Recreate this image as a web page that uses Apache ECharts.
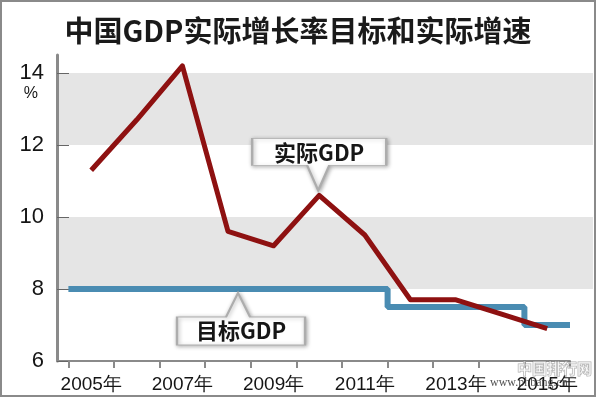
<!DOCTYPE html>
<html>
<head>
<meta charset="utf-8">
<script src="https://cdn.jsdelivr.net/npm/echarts@6/dist/echarts.min.js"></script>
<style>
  html, body { margin: 0; padding: 0; background: #fff; }
  #chart { width: 596px; height: 397px; }
</style>
</head>
<body>
<div id="chart"></div>
<script>
const years = [2005, 2006, 2007, 2008, 2009, 2010, 2011, 2012, 2013, 2014, 2015]
const actualGdp = [11.3, 12.7, 14.2, 9.6, 9.2, 10.6, 9.5, 7.7, 7.7, 7.3, 6.9]
const targetGdp = [8, 8, 8, 8, 8, 8, 8, 7.5, 7.5, 7.5, 7]
const yTicks = [6, 8, 10, 12, 14]
const xLabelYears = [2005, 2007, 2009, 2011, 2013, 2015]

// target holds for the whole year, so draw it across each year's band
const targetSteps = []
years.forEach((y, i) => {
  targetSteps.push([y - 0.5, targetGdp[i]])
  targetSteps.push([y + 0.5, targetGdp[i]])
})
const yearEdges = years.map(y => y - 0.5).concat([years[years.length - 1] + 0.5])
const actualPoints = years.map((y, i) => [y, actualGdp[i]])

const cjk = '"Noto Sans CJK SC", sans-serif'
const latin = '"Liberation Sans", Arial, sans-serif'

const calloutStyle = {
  color: '#fff',
  borderColor: '#adadad',
  borderWidth: 1.5,
  shadowBlur: 4,
  shadowOffsetX: 1,
  shadowOffsetY: 1,
  shadowColor: 'rgba(0,0,0,0.3)'
}
const calloutLabel = {
  show: true,
  position: 'inside',
  fontSize: 22,
  fontWeight: 'bold',
  fontFamily: cjk,
  color: '#161616'
}

var myChart = echarts.init(document.getElementById('chart'), null, { width: 596, height: 397 })

myChart.setOption({
  animation: false,
  backgroundColor: '#fff',
  title: {
    text: '中国GDP实际增长率目标和实际增速',
    left: 'center',
    top: 11,
    textStyle: { fontSize: 29, fontWeight: 'bold', color: '#1a1a1a', fontFamily: cjk }
  },
  grid: [
    { left: 57, right: 3, top: 55, bottom: 36 },
    { left: 57, right: 26, top: 55, bottom: 36 }
  ],
  xAxis: [
    { gridIndex: 0, type: 'value', show: false, min: 0, max: 1 },
    {
      gridIndex: 1,
      type: 'value',
      min: 2004.25,
      max: 2015.5,
      axisLine: { show: true, onZero: false, lineStyle: { color: '#8a8a8a', width: 2 } },
      axisTick: { show: true, customValues: yearEdges, length: 7, lineStyle: { color: '#8a8a8a', width: 2 } },
      axisLabel: {
        customValues: xLabelYears,
        formatter: v => v + '年',
        fontSize: 19,
        color: '#151515',
        fontFamily: latin,
        margin: 14
      },
      splitLine: { show: false }
    }
  ],
  yAxis: [
    {
      gridIndex: 0,
      type: 'value',
      min: 6,
      max: 14.5,
      interval: 2,
      name: '%',
      nameLocation: 'end',
      nameGap: 0,
      nameTextStyle: {
        fontSize: 16, color: '#151515', fontFamily: latin,
        align: 'right', verticalAlign: 'top', padding: [31, 19, 0, 0]
      },
      axisLine: { show: true, lineStyle: { color: '#8a8a8a', width: 3 } },
      axisTick: { show: true, inside: true, length: 12, customValues: yTicks, lineStyle: { color: '#666', width: 1 } },
      axisLabel: { customValues: yTicks, fontSize: 22, color: '#151515', fontFamily: latin, margin: 13 },
      splitLine: { show: false },
      splitArea: { show: true, areaStyle: { color: ['#ffffff', '#e5e5e5'] } }
    },
    { gridIndex: 1, type: 'value', min: 6, max: 14.5, show: false }
  ],
  series: [
    {
      name: '目标GDP',
      type: 'line',
      xAxisIndex: 1,
      yAxisIndex: 1,
      data: targetSteps,
      showSymbol: false,
      lineStyle: { color: '#4a8cb2', width: 6 },
      markPoint: {
        data: [{
          coord: [2008.22, 8],
          symbol: 'path://M61 0 L73 24 L128 24 L128 52 L0 52 L0 24 L49 24 Z',
          symbolSize: [128, 52],
          symbolOffset: [3, 30],
          itemStyle: calloutStyle,
          label: Object.assign({}, calloutLabel, { formatter: '目标GDP', offset: [0, 12] })
        }]
      }
    },
    {
      name: '实际GDP',
      type: 'line',
      xAxisIndex: 1,
      yAxisIndex: 1,
      data: actualPoints,
      showSymbol: false,
      lineStyle: { color: '#8e1111', width: 5, join: 'round' },
      markPoint: {
        data: [{
          coord: [2010, 10.6],
          symbol: 'path://M0 0 L134 0 L134 27 L77 27 L66 52 L55 27 L0 27 Z',
          symbolSize: [134, 52],
          symbolOffset: [0, -31],
          itemStyle: calloutStyle,
          label: Object.assign({}, calloutLabel, { formatter: '实际GDP', offset: [0, -12] })
        }]
      }
    }
  ],
  graphic: [
    {
      type: 'rect',
      silent: true,
      z: 100,
      shape: { x: 1, y: 1, width: 594, height: 395 },
      style: { fill: 'none', stroke: '#8a8a8a', lineWidth: 2 }
    },
    {
      type: 'text',
      silent: true,
      z: 100,
      x: 517,
      y: 361,
      style: { text: '中国排行网', font: 'bold 15px "Noto Sans CJK SC"', fill: 'rgba(255,255,255,0.5)', stroke: 'rgba(110,110,110,0.55)', lineWidth: 1 }
    },
    {
      type: 'text',
      silent: true,
      z: 100,
      x: 490,
      y: 377,
      style: { text: 'www.phbang.cn', font: '12px "Liberation Serif"', fill: 'rgba(50,50,50,0.85)' }
    }
  ]
})
</script>
</body>
</html>
